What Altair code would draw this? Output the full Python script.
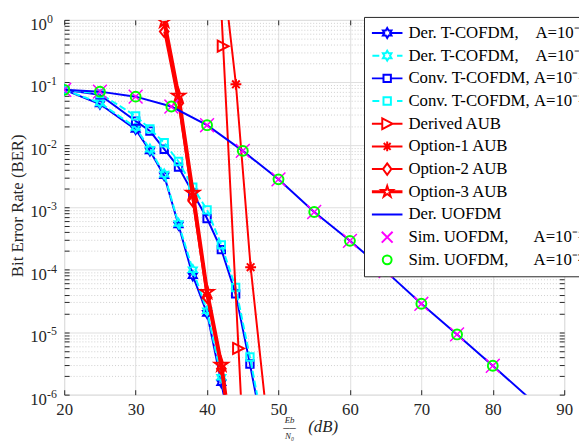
import altair as alt
import pandas as pd

# ---------------- data ----------------
snr_der_t = [20, 25, 30, 32, 34, 36, 38, 40, 42, 44]
ber_der_t_a1 = [0.076, 0.045, 0.0176, 0.0080, 0.0032, 0.00052, 8.0e-5, 2.0e-5, 1.55e-6, 1.0e-7]
ber_der_t_a2 = [0.076, 0.047, 0.0190, 0.0085, 0.0034, 0.00055, 1.0e-4, 2.2e-5, 1.9e-6, 1.3e-7]

snr_conv_t = [20, 25, 30, 32, 34, 36, 38, 40, 42, 44, 46, 48]
ber_conv_t_a1 = [0.076, 0.063, 0.024, 0.0166, 0.0085, 0.0044, 0.0017, 0.00066, 0.00021, 4.1e-5, 3.1e-6, 2.0e-7]
ber_conv_t_a2 = [0.076, 0.066, 0.029, 0.018, 0.0108, 0.0054, 0.0021, 0.00091, 0.00025, 5.2e-5, 4.0e-6, 2.5e-7]

snr_derived_aub = [41.9, 42.25, 44.4, 44.9]
ber_derived_aub = [2.3, 0.38, 5.5e-6, 4.0e-7]
snr_derived_aub_mk = [42.25, 44.4]
ber_derived_aub_mk = [0.38, 5.5e-6]

snr_opt1 = [42.9, 44.04, 46.1, 48.3]
ber_opt1 = [1.3, 0.093, 1.1e-4, 5.0e-7]
snr_opt1_mk = [44.04, 46.1]
ber_opt1_mk = [0.093, 1.1e-4]

snr_opt23 = [34, 36, 38, 40, 42, 44]
ber_opt2 = [0.65, 0.046, 0.00126, 3.6e-5, 2.6e-6, 5.0e-8]
ber_opt3 = [0.96, 0.061, 0.0017, 4.4e-5, 3.0e-6, 6.0e-8]

snr_uofdm = [20, 25, 30, 35, 40, 45, 50, 55, 60, 65, 70, 75, 80, 85]
ber_uofdm = [0.076, 0.071, 0.059, 0.041, 0.0206, 0.0080, 0.0028, 0.00084, 0.00029,
             9.5e-5, 2.85e-5, 9.2e-6, 2.9e-6, 9.0e-7]

snr_sim = [20, 25, 30, 35, 40, 45, 50, 55, 60, 65, 70, 75, 80]
ber_sim_a1 = [0.076, 0.071, 0.059, 0.041, 0.0206, 0.0080, 0.0028, 0.00084, 0.00029,
              9.5e-5, 2.85e-5, 9.2e-6, 2.9e-6]
ber_sim_a2 = [0.076, 0.071, 0.059, 0.041, 0.0206, 0.0080, 0.0028, 0.00084, 0.00029,
              9.5e-5, 2.85e-5, 9.2e-6, 2.9e-6]

x_ticks = [20, 30, 40, 50, 60, 70, 80, 90]
y_major = [1e-6, 1e-5, 1e-4, 1e-3, 1e-2, 1e-1, 1]
y_minor = [k * 10.0 ** e for e in range(-6, 0) for k in range(2, 10)]

NB = "\u00a0"
legend_names = [
    "Der. T-COFDM," + NB * 4 + "A=10\u207b\u00b9",
    "Der. T-COFDM," + NB * 4 + "A=10\u207b\u00b2",
    "Conv. T-COFDM," + NB + "A=10\u207b\u00b9",
    "Conv. T-COFDM," + NB + "A=10\u207b\u00b2",
    "Derived AUB",
    "Option-1 AUB",
    "Option-2 AUB",
    "Option-3 AUB",
    "Der. UOFDM",
    "Sim. UOFDM," + NB * 6 + "A=10\u207b\u00b9",
    "Sim. UOFDM," + NB * 6 + "A=10\u207b\u00b2",
]

# ---------------- styles ----------------
FONT = "Liberation Serif"
INK = "#262626"
BLUE, CYAN, RED, MAG, GRN = "#0000ff", "#00ffff", "#ff0000", "#ff00ff", "#00ff00"
W, H = 507, 380

HEX = ("M0,-1L0.289,-0.5L0.866,-0.5L0.577,0L0.866,0.5L0.289,0.5L0,1L-0.289,0.5"
       "L-0.866,0.5L-0.577,0L-0.866,-0.5L-0.289,-0.5Z")
PENT = ("M0,-1L0.225,-0.309L0.951,-0.309L0.363,0.118L0.588,0.809L0,0.382"
        "L-0.588,0.809L-0.363,0.118L-0.951,-0.309L-0.225,-0.309Z")
TRI = "M-1,-1L1,0L-1,1Z"
DIA = "M0,-1L0.8,0L0,1L-0.8,0Z"
AST = "M-1,0L1,0M0,-1L0,1M-0.7,-0.7L0.7,0.7M-0.7,0.7L0.7,-0.7"
XM = "M-1,-1L1,1M-1,1L1,-1"

# legend symbols (line + marker), unit = sqrt(symbolSize)/2 px
LG = [
    "M-3.1,0H-0.58M0.58,0H3.1" + HEX,
    "M-3.0,0H-1.6M2.0,0H3.1" + HEX,
    "M-3.1,0H-0.75M0.75,0H3.1M-0.75,-0.75H0.75V0.75H-0.75Z",
    "M-3.0,0H-1.6M2.0,0H3.1M-0.75,-0.75H0.75V0.75H-0.75Z",
    "M-3.1,0H-1M1.1,0H3.1M-1,-1.1L1.1,0L-1,1.1Z",
    "M-3.1,0H3.1M0,-1V1M-0.7,-0.7L0.7,0.7M-0.7,0.7L0.7,-0.7",
    "M-3.1,0H-0.85M0.85,0H3.1M0,-1.15L0.85,0L0,1.15L-0.85,0Z",
    "M-3.1,-0.12H-0.63M-3.1,0.12H-0.63M0.63,-0.12H3.1M0.63,0.12H3.1"
    "M0,-1.2L0.269,-0.371L1.141,-0.371L0.436,0.142L0.706,0.971L0,0.458"
    "L-0.706,0.971L-0.436,0.142L-1.141,-0.371L-0.269,-0.371Z",
    "M-3.1,0H3.1",
    "M-1.1,-1.1L1.1,1.1M-1.1,1.1L1.1,-1.1",
    "M0.9,0A0.9,0.9 0 1,1 -0.9,0A0.9,0.9 0 1,1 0.9,0Z",
]
LC = [BLUE, CYAN, BLUE, CYAN, RED, RED, RED, RED, BLUE, MAG, GRN]

xs = alt.Scale(domain=[20, 90], nice=False, zero=False)
ys = alt.Scale(type="log", domain=[1e-6, 1], nice=False)

x_main = alt.Axis(orient="bottom", values=x_ticks, grid=True, gridColor="#dedede", ticks=False,
                  domain=False, labelFont=FONT, labelFontSize=17, labelColor=INK, labelPadding=7,
                  labelFlush=False, labelOverlap=False,
                  title="(dB)", titleFont=FONT, titleFontSize=17, titleFontStyle="italic",
                  titleFontWeight="normal", titleColor=INK, titleX=262, titleY=32,
                  titleBaseline="middle", titleAlign="center")
y_main = alt.Axis(orient="left", values=y_major, labelExpr="'10'", grid=True, gridColor="#dedede",
                  ticks=False, domain=False, labelFont=FONT, labelFontSize=17,
                  labelColor=INK, labelPadding=18, labelOffset=4.5, labelOverlap=False,
                  title="Bit Error Rate (BER)", titleFont=FONT, titleFontSize=17,
                  titleFontWeight="normal", titleColor=INK, titleX=-47, titleY=188,
                  titleAngle=270, titleBaseline="middle", titleAlign="center")


def d(x, y):
    return pd.DataFrame({"snr": x, "ber": y})


def enc(ch):
    return ch.encode(x=alt.X("snr:Q", scale=xs, axis=x_main),
                     y=alt.Y("ber:Q", scale=ys, axis=y_main))


def line(x, y, color, width=2, dash=None):
    kw = dict(color=color, strokeWidth=width, clip=True)
    if dash:
        kw["strokeDash"] = dash
    return enc(alt.Chart(d(x, y)).mark_line(**kw))


def pts(x, y, shape, color, size, width=2):
    return enc(alt.Chart(d(x, y)).mark_point(shape=shape, size=size, filled=False,
                                             color=color, strokeWidth=width,
                                             opacity=1, clip=True))


data_layers = alt.layer(
    line(snr_der_t, ber_der_t_a1, BLUE), pts(snr_der_t, ber_der_t_a1, HEX, BLUE, 90),
    line(snr_der_t, ber_der_t_a2, CYAN, dash=[7, 3]), pts(snr_der_t, ber_der_t_a2, HEX, CYAN, 90),
    line(snr_conv_t, ber_conv_t_a1, BLUE), pts(snr_conv_t, ber_conv_t_a1, "square", BLUE, 56),
    line(snr_conv_t, ber_conv_t_a2, CYAN, dash=[7, 3]), pts(snr_conv_t, ber_conv_t_a2, "square", CYAN, 56),
    line(snr_derived_aub, ber_derived_aub, RED),
    pts(snr_derived_aub_mk, ber_derived_aub_mk, TRI, RED, 121),
    line(snr_opt1, ber_opt1, RED), pts(snr_opt1_mk, ber_opt1_mk, AST, RED, 121),
    line(snr_opt23, ber_opt2, RED), pts(snr_opt23, ber_opt2, DIA, RED, 121),
    line(snr_opt23, ber_opt3, RED, width=4), pts(snr_opt23, ber_opt3, PENT, RED, 196),
    line(snr_uofdm, ber_uofdm, BLUE),
    pts(snr_sim, ber_sim_a1, XM, MAG, 196, 1.5),
    pts(snr_sim, ber_sim_a2, "circle", GRN, 100, 2),
)

ghost = pd.DataFrame({"snr": [50], "ber": [1e-3]})


def guide(xaxis, yaxis):
    return alt.Chart(ghost).mark_point(opacity=0).encode(
        x=alt.X("snr:Q", scale=xs, axis=xaxis),
        y=alt.Y("ber:Q", scale=ys, axis=yaxis))


plain = dict(labels=False, domain=False, title=None)
minor_grid = guide(None, alt.Axis(orient="left", values=y_minor, grid=True, gridColor="#cfcfcf",
                                  gridDash=[1, 2], ticks=False, **plain))
ticks_a = guide(
    alt.Axis(orient="top", offset=-H, values=x_ticks, grid=False, ticks=True, tickSize=5,
             tickColor=INK, **plain),
    alt.Axis(orient="right", offset=-W, values=y_major + y_minor, grid=False, ticks=True,
             tickSize=5, tickColor=INK, **plain))
ticks_b = guide(
    alt.Axis(orient="bottom", offset=-H, values=x_ticks, grid=False, ticks=True, tickSize=5,
             tickColor=INK, **plain),
    alt.Axis(orient="left", offset=-W, values=y_major + y_minor, grid=False, ticks=True,
             tickSize=5, tickColor=INK, **plain))
exp_labels = guide(
    alt.Axis(orient="bottom", values=x_ticks, grid=False, ticks=False, labels=False, domain=False,
             title=["Eb", "\u2500\u2500", "N\u2080"], titleFont=FONT, titleFontSize=9,
             titleFontStyle="italic", titleFontWeight="normal", titleColor=INK,
             titleX=228, titleY=21, titleBaseline="top", titleAlign="center",
             titleLineHeight=8),
    alt.Axis(orient="left", values=y_major, grid=False, ticks=False, domain=False, labelFont=FONT,
             labelFontSize=12, labelColor=INK, labelAlign="left", labelPadding=18,
             labelOffset=-1.5, labelOverlap=False,
             labelExpr="datum.value >= 1 ? '0' : '-' + round(-log(datum.value) / LN10)",
             title=None))

leg = alt.Legend(orient="none", legendX=304, legendY=-3, padding=5, fillColor="white",
                 strokeColor=INK, title=None, symbolSize=100, symbolStrokeWidth=2,
                 symbolOffset=10, labelOffset=13, labelFont=FONT, labelFontSize=17,
                 labelColor="black", labelLimit=0, clipHeight=22.6, rowPadding=0,
                 symbolOpacity=1)
legend_layer = alt.Chart(pd.DataFrame({"series": legend_names})).mark_point(
    opacity=0, filled=False).encode(
    color=alt.Color("series:N", scale=alt.Scale(domain=legend_names, range=LC), legend=leg),
    shape=alt.Shape("series:N", scale=alt.Scale(domain=legend_names, range=LG), legend=leg),
)

chart = alt.layer(minor_grid, ticks_a, ticks_b, exp_labels, data_layers, legend_layer).resolve_scale(
    x="independent", y="independent"
).properties(
    width=W, height=H,
    autosize=alt.AutoSizeParams(type="none"),
    padding={"left": 57, "top": 9, "right": 15, "bottom": 48},
).configure_view(stroke=INK, strokeWidth=1).configure_legend(
    labelFont=FONT, labelFontSize=17
).configure(font=FONT)

chart.save("out.html", embed_options={"renderer": "svg", "actions": False})
